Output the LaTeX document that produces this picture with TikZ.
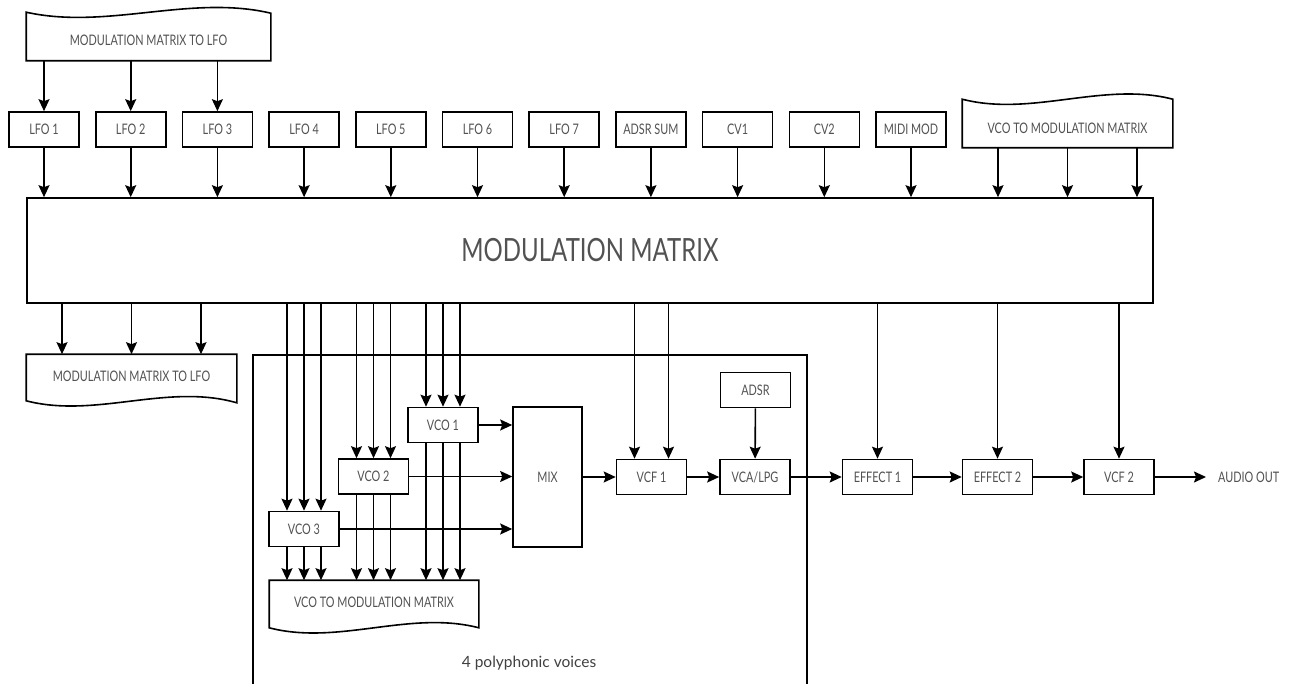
\documentclass[tikz,border=0pt]{standalone}
\usepackage{fontspec}
\setmainfont{Lato}
\newfontfamily\boxfont{Lato}[FakeStretch=0.75]
\usetikzlibrary{arrows.meta, calc}
\tikzset{%
	wire/.style = { line width=1.6pt },
	arr/.style = { wire, -{Stealth[length=12pt, width=11pt, inset=2pt]} },
	box/.style = { draw, wire, minimum width=70pt, minimum height=35pt, inner sep=0pt,
		font=\boxfont\fontsize{14.5}{14.5}\selectfont, text=black!68 },
	doc/.style = { box, draw=none },
	bigbox/.style = { box, font=\boxfont\fontsize{32}{32}\selectfont },
	plain/.style = { inner sep=0pt, font=\boxfont\fontsize{14.5}{14.5}\selectfont, text=black!68 }
}

\begin{document}
\begin{tikzpicture}[x=1pt, y=-1pt]
	\useasboundingbox (0,0) rectangle (1292,684);
	% sources above the matrix
	\node[doc, minimum width=243pt, minimum height=40pt] (mtl) at (148.5,40) {MODULATION MATRIX TO LFO};
	\draw[wire] ($(mtl.north west)+(0,-7)$) .. controls ($(mtl.north west)!.33!(mtl.north east)+(0,11)$) and ($(mtl.north west)!.67!(mtl.north east)+(0,-25)$) .. ($(mtl.north east)+(0,-6)$) -- (mtl.south east) -- (mtl.south west) -- cycle;
	\foreach \name/\txt [count=\i from 0] in {lfo1/LFO 1, lfo2/LFO 2, lfo3/LFO 3, lfo4/LFO 4, lfo5/LFO 5, lfo6/LFO 6, lfo7/LFO 7, adsrsum/ADSR SUM, cv1/CV1, cv2/CV2, midimod/MIDI MOD}
		\node[box] (\name) at ({44+86.7*\i},129.5) {\txt};
	\node[doc, minimum width=209pt, minimum height=38pt] (vtm) at (1067.5,128) {VCO TO MODULATION MATRIX};
	\draw[wire] ($(vtm.north west)+(0,-9)$) .. controls ($(vtm.north west)!.33!(vtm.north east)+(0,9)$) and ($(vtm.north west)!.67!(vtm.north east)+(0,-27)$) .. ($(vtm.north east)+(0,-9)$) -- (vtm.south east) -- (vtm.south west) -- cycle;
	% matrix
	\node[bigbox, minimum width=1126pt, minimum height=105pt] (mm) at (590,250.5) {MODULATION MATRIX};
	\foreach \name in {lfo1,lfo2,lfo3}
		\draw[arr] (\name |- mtl.south) -- (\name);
	\foreach \name in {lfo1,lfo2,lfo3,lfo4,lfo5,lfo6,lfo7,adsrsum,cv1,cv2,midimod}
		\draw[arr] (\name) -- (\name |- mm.north);
	\foreach \dx in {-69.5,0,69.5}
		\draw[arr] ([xshift=\dx pt]vtm.south) -- ([xshift=\dx pt]vtm.south |- mm.north);
	% back to the lfos
	\node[doc, minimum width=209pt, minimum height=42pt] (mtl2) at (131.5,376) {MODULATION MATRIX TO LFO};
	\draw[wire] (mtl2.north west) -- (mtl2.north east) -- ($(mtl2.south east)+(0,5)$) .. controls ($(mtl2.south west)!.67!(mtl2.south east)+(0,-15)$) and ($(mtl2.south west)!.33!(mtl2.south east)+(0,21)$) .. ($(mtl2.south west)+(0,3)$) -- cycle;
	\foreach \dx in {-69.5,0,69.5}
		\draw[arr] ([xshift=\dx pt]mtl2.north |- mm.south) -- ([xshift=\dx pt]mtl2.north);
	% voice
	\draw[wire, line width=1.3pt] (253,684) |- (807,355) -- (807,684);
	\node[inner sep=0pt, font=\fontsize{15.5}{15.5}\selectfont, text=black!75] (poly) at (529,663) {4 polyphonic voices};
	\node[box] (vco1) at (443,425) {VCO 1};
	\node[box] (vco2) at (373.5,476.5) {VCO 2};
	\node[box] (vco3) at (304,529) {VCO 3};
	\node[box, minimum width=69pt, minimum height=140pt] (mix) at (547.5,477) {MIX};
	\node[doc, minimum width=208pt, minimum height=42pt] (vtm2) at (374,602) {VCO TO MODULATION MATRIX};
	\draw[wire] (vtm2.north west) -- (vtm2.north east) -- ($(vtm2.south east)+(0,4)$) .. controls ($(vtm2.south west)!.67!(vtm2.south east)+(0,-14)$) and ($(vtm2.south west)!.33!(vtm2.south east)+(0,22)$) .. ($(vtm2.south west)+(0,4)$) -- cycle;
	\foreach \v in {vco1,vco2,vco3} {
		\foreach \dx in {-17,0,17} {
			\draw[arr] ([xshift=\dx pt]\v.north |- mm.south) -- ([xshift=\dx pt]\v.north);
			\draw[arr] ([xshift=\dx pt]\v.south) -- ([xshift=\dx pt]\v.south |- vtm2.north);
		}
		\draw[arr] (\v.east) -- (\v.east -| mix.west);
	}
	% signal path
	\node[box] (vcf1) at (651.5,477) {VCF 1};
	\node[box] (vca) at (755,477) {VCA/LPG};
	\node[box] (adsr) at (755.5,390) {ADSR};
	\node[box] (eff1) at (877.5,477) {EFFECT 1};
	\node[box] (eff2) at (997.5,477) {EFFECT 2};
	\node[box] (vcf2) at (1119,477) {VCF 2};
	\node[plain, anchor=west] (out) at (1218,477) {AUDIO OUT};
	\foreach \dx in {-17,17}
		\draw[arr] ([xshift=\dx pt]vcf1.north |- mm.south) -- ([xshift=\dx pt]vcf1.north);
	\foreach \name in {eff1,eff2,vcf2}
		\draw[arr] (\name |- mm.south) -- (\name);
	\draw[arr] (adsr) -- (vca);
	\draw[arr] (mix) -- (vcf1);
	\draw[arr] (vcf1) -- (vca);
	\draw[arr] (vca) -- (eff1);
	\draw[arr] (eff1) -- (eff2);
	\draw[arr] (eff2) -- (vcf2);
	\draw[arr] (vcf2) -- ([xshift=-12pt]out.west);
\end{tikzpicture}
\end{document}
